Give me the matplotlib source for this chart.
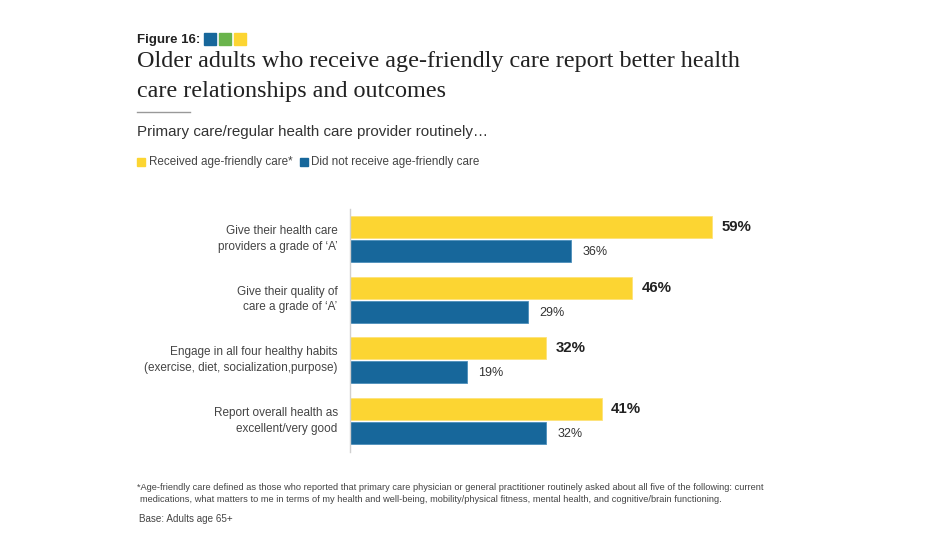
import matplotlib.pyplot as plt
from matplotlib.patches import Rectangle
from matplotlib.lines import Line2D

categories = [
    "Give their health care\nproviders a grade of \u2018A\u2019",
    "Give their quality of\ncare a grade of \u2018A\u2019",
    "Engage in all four healthy habits\n(exercise, diet, socialization,purpose)",
    "Report overall health as\nexcellent/very good",
]
received = [59, 46, 32, 41]
not_received = [36, 29, 19, 32]
series_names = ["Received age-friendly care*", "Did not receive age-friendly care"]

YELLOW = "#fcd532"
BLUE = "#17679b"
GREEN = "#6ab44c"
TEXT = "#333333"

sans = ["Liberation Sans", "DejaVu Sans"]
serif = ["Liberation Serif", "DejaVu Serif"]

W, H = 928, 545
fig = plt.figure(figsize=(W / 100, H / 100), dpi=100)

def fx(px):
    return px / W

def fy(py):
    return 1 - py / H

# axes area in pixels
ax_left, ax_right = 350, 850
ax_top, ax_bot = 209, 452
px_per_pct = (712 - 350) / 59
px_per_group = 60.6
group0 = 239

ax = fig.add_axes([fx(ax_left), fy(ax_bot), fx(ax_right - ax_left), (ax_bot - ax_top) / H])
ax.set_xlim(0, (ax_right - ax_left) / px_per_pct)
ax.set_ylim((ax_bot - group0) / px_per_group, (ax_top - group0) / px_per_group)

ypos = list(range(len(categories)))
off = 0.198
h = 22 / px_per_group

ax.barh([y - off for y in ypos], received, height=h, color=YELLOW, edgecolor="#fde27a", linewidth=0.6)
ax.barh([y + off for y in ypos], not_received, height=h, color=BLUE, edgecolor="#4d8fbb", linewidth=0.6)

for y, v in zip(ypos, received):
    ax.text(v + 1.5, y - off, f"{v}%", va="center", ha="left", fontsize=10.8,
            fontweight="bold", color="#222222", family=sans)
for y, v in zip(ypos, not_received):
    ax.text(v + 1.9, y + off + 0.02, f"{v}%", va="center", ha="left", fontsize=9,
            color=TEXT, family=sans)

for y, c in zip(ypos, categories):
    ax.text(-2.0, y, c, va="center", ha="right", fontsize=8.5, color="#444444",
            family=sans, linespacing=1.4)

for s in ["top", "right", "bottom"]:
    ax.spines[s].set_visible(False)
ax.spines["left"].set_color("#d0d0d0")
ax.spines["left"].set_linewidth(1)
ax.set_xticks([])
ax.set_yticks([])

# header
fig.text(fx(137), fy(39.5), "Figure 16:", fontsize=9.5, fontweight="bold", color="#222222",
         family=sans, va="center", ha="left")
for x0, col in zip([204, 219, 234], [BLUE, GREEN, YELLOW]):
    fig.add_artist(Rectangle((fx(x0), fy(45)), fx(12), 12 / H, color=col, transform=fig.transFigure))

fig.text(fx(137), fy(62), "Older adults who receive age-friendly care report better health",
         fontsize=17.4, color="#222222", family=serif, va="center", ha="left")
fig.text(fx(137), fy(91), "care relationships and outcomes",
         fontsize=17.4, color="#222222", family=serif, va="center", ha="left")
fig.add_artist(Line2D([fx(137), fx(190)], [fy(112), fy(112)], color="#999999", linewidth=1,
                      transform=fig.transFigure))

fig.text(fx(137), fy(132), "Primary care/regular health care provider routinely\u2026",
         fontsize=10.9, color="#333333", family=sans, va="center", ha="left")

# legend
fig.add_artist(Rectangle((fx(137), fy(166)), fx(8), 8 / H, color=YELLOW, transform=fig.transFigure))
fig.text(fx(149), fy(162), series_names[0], fontsize=8.4, color="#444444", family=sans,
         va="center", ha="left")
fig.add_artist(Rectangle((fx(300), fy(166)), fx(8), 8 / H, color=BLUE, transform=fig.transFigure))
fig.text(fx(311), fy(162), series_names[1], fontsize=8.4, color="#444444", family=sans,
         va="center", ha="left")

# footnotes
fig.text(fx(137), fy(487), "*Age-friendly care defined as those who reported that primary care physician or general "
         "practitioner routinely asked about all five of the following: current",
         fontsize=6.65, color="#444444", family=sans, va="center", ha="left")
fig.text(fx(140), fy(500), "medications, what matters to me in terms of my health and well-being, mobility/physical "
         "fitness, mental health, and cognitive/brain functioning.",
         fontsize=6.65, color="#444444", family=sans, va="center", ha="left")
fig.text(fx(139), fy(519), "Base: Adults age 65+", fontsize=7.1, color="#444444", family=sans,
         va="center", ha="left")

fig.savefig("out.png", dpi=100, facecolor="white")
